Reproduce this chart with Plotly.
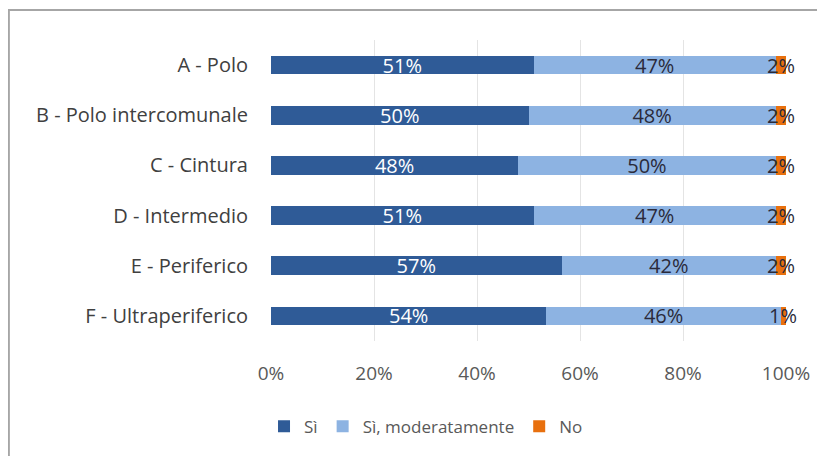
import plotly.graph_objects as go

categories = ['A - Polo', 'B - Polo intercomunale', 'C - Cintura',
              'D - Intermedio', 'E - Periferico', 'F - Ultraperiferico']
si = [51, 50, 48, 51, 57, 54]
si_moderatamente = [47, 48, 50, 47, 42, 46]
no = [2, 2, 2, 2, 2, 1]
tick_vals = [0, 20, 40, 60, 80, 100]
tick_text = ['0%', '20%', '40%', '60%', '80%', '100%']

font = 'Open Sans, sans-serif'

# 100% stacked: normalise each row to its total, labels keep the raw values
totals = [a + b + c for a, b, c in zip(si, si_moderatamente, no)]

series = [
    ('Sì', si, '#2F5B97', 'white', True),
    ('Sì, moderatamente', si_moderatamente, '#8DB3E2', '#2A2A3A', True),
    ('No', no, '#E8700E', '#2A2A3A', False),
]

fig = go.Figure()
for name, vals, color, tcolor, inside in series:
    fig.add_trace(go.Bar(
        y=categories, x=[v / t * 100 for v, t in zip(vals, totals)],
        name=name, orientation='h',
        marker=dict(color=color, line=dict(width=0)),
        width=0.37,
        text=[f'{v}%' for v in vals] if inside else None,
        textposition='inside' if inside else 'none',
        insidetextanchor='middle', textangle=0,
        constraintext='none', cliponaxis=False,
        textfont=dict(color=tcolor, size=20, family=font),
    ))

# small "No" segments: labels centred on the segment, overflowing it
for cat, a, b, c, t in zip(categories, si, si_moderatamente, no, totals):
    fig.add_annotation(x=(a + b + c / 2) / t * 100, y=cat, text=f'{c}%',
                       showarrow=False, xanchor='center',
                       font=dict(size=20, color='#2A2A3A', family=font))

fig.update_layout(
    width=825, height=456,
    barmode='stack',
    plot_bgcolor='white', paper_bgcolor='white',
    margin=dict(l=263, r=47, t=32, b=123),
    font=dict(family=font, color='#595959', size=17),
    legend=dict(orientation='h', x=0.301, xanchor='center', y=-0.225, yanchor='top',
                font=dict(size=17, color='#595959'), traceorder='normal'),
    xaxis=dict(range=[0, 100], tickvals=tick_vals, ticktext=tick_text,
               showgrid=True, gridcolor='#E4E4E4', gridwidth=1,
               zeroline=False, showline=False, ticklabelstandoff=19,
               automargin=False,
               tickfont=dict(size=19, color='#595959')),
    yaxis=dict(autorange='reversed', showgrid=False, zeroline=False,
               ticklabelstandoff=22, automargin=False,
               tickfont=dict(size=20, color='#404040')),
    uniformtext=dict(mode=False),
    shapes=[dict(type='rect', xref='paper', yref='paper',
                 x0=-0.509, x1=1.2, y0=-0.5, y1=1.1,
                 line=dict(color='#A6A6A6', width=2))],
)

fig.write_html('out.html')
